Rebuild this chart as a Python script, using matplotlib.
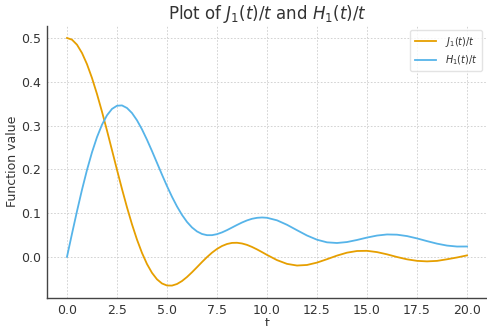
import numpy as np
import matplotlib
matplotlib.use("Agg")
from matplotlib import pyplot as plt

# values (finer steps where the curves bend most)
t = [0.0, 0.25, 0.5, 0.75, 1.0, 1.25, 1.5, 1.75, 2.0, 2.25,
     2.5, 2.75, 3.0, 3.25, 3.5, 3.75, 4.0, 4.25, 4.5, 4.75,
     5.0, 5.25, 5.5, 5.75, 6.0, 6.25, 6.5, 6.75, 7.0, 7.25,
     7.5, 7.75, 8.0, 8.25, 8.5, 8.75, 9.0, 9.25, 9.5, 9.75,
     10.0, 10.5, 11.0, 11.5, 12.0, 12.5, 13.0, 13.5, 14.0, 14.5,
     15.0, 15.5, 16.0, 16.5, 17.0, 17.5, 18.0, 18.5, 19.0, 19.5, 20.0]

j1_over_t = [0.5000, 0.4961, 0.4846, 0.4657, 0.4401, 0.4085, 0.3719, 0.3315, 0.2884, 0.2437,
             0.1988, 0.1549, 0.1130, 0.0742, 0.0393, 0.0089, -0.0165, -0.0366, -0.0514, -0.0609,
             -0.0655, -0.0657, -0.0621, -0.0553, -0.0461, -0.0353, -0.0237, -0.0119, -0.0007, 0.0095,
             0.0180, 0.0247, 0.0293, 0.0318, 0.0321, 0.0305, 0.0273, 0.0226, 0.0170, 0.0108,
             0.0044, -0.0075, -0.0161, -0.0199, -0.0186, -0.0132, -0.0054, 0.0028, 0.0095, 0.0133,
             0.0137, 0.0108, 0.0057, -0.0004, -0.0057, -0.0092, -0.0104, -0.0093, -0.0056, -0.0015, 0.0033]

h1_over_t = [0.0000, 0.0528, 0.1043, 0.1533, 0.1985, 0.2388, 0.2735, 0.3019, 0.3234, 0.3379,
             0.3452, 0.3459, 0.3400, 0.3285, 0.3119, 0.2912, 0.2674, 0.2416, 0.2147, 0.1877,
             0.1616, 0.1372, 0.1151, 0.0958, 0.0797, 0.0671, 0.0580, 0.0522, 0.0495, 0.0495,
             0.0518, 0.0558, 0.0610, 0.0669, 0.0728, 0.0784, 0.0832, 0.0869, 0.0891, 0.0899,
             0.0892, 0.0834, 0.0732, 0.0608, 0.0487, 0.0391, 0.0331, 0.0316, 0.0338, 0.0385,
             0.0440, 0.0486, 0.0511, 0.0506, 0.0474, 0.0421, 0.0359, 0.0301, 0.0257, 0.0235, 0.0236]

text_col = "#333333"

fig = plt.figure(figsize=(4.87, 3.26), dpi=100)
ax = fig.add_axes([0.0965, 0.086, 0.9035, 0.8355])

ax.plot(t, j1_over_t, color="#E69F00", lw=1.3, label=r"$J_1(t)/t$")
ax.plot(t, h1_over_t, color="#56B4E9", lw=1.3, label=r"$H_1(t)/t$")

ax.set_title(r"Plot of $J_1(t)/t$ and $H_1(t)/t$", fontsize=12, color=text_col, pad=5)
ax.set_xlabel("t", fontsize=9, color=text_col, labelpad=0)
ax.set_ylabel("Function value", fontsize=9, color=text_col, labelpad=2)

ax.set_xticks([0, 2.5, 5, 7.5, 10, 12.5, 15, 17.5, 20])
ax.set_yticks([0.0, 0.1, 0.2, 0.3, 0.4, 0.5])
ax.tick_params(length=0, labelsize=9, labelcolor=text_col, pad=4)

ax.grid(True, color="#cccccc", linestyle=(0, (2, 2)), linewidth=0.6)
ax.set_axisbelow(True)
for s in ["top", "right"]:
    ax.spines[s].set_visible(False)
for s in ["left", "bottom"]:
    ax.spines[s].set_color("#444444")
    ax.spines[s].set_linewidth(1.0)

leg = ax.legend(loc="upper right", fontsize=7, frameon=True, fancybox=True,
                borderpad=0.45, labelspacing=0.45, handlelength=2.2, handletextpad=0.9)
leg.get_frame().set_edgecolor("#dddddd")
for txt in leg.get_texts():
    txt.set_color(text_col)

plt.savefig("out.png", dpi=100)
